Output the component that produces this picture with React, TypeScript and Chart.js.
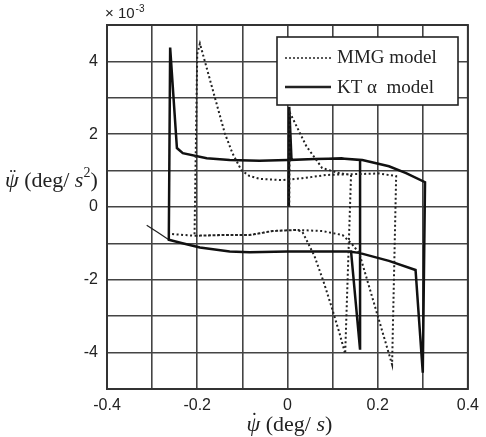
import React, { useEffect, useRef } from 'react';
import { Chart, registerables } from 'chart.js';

Chart.register(...registerables);

// Axis settings (values in deg/s and 10^-3 deg/s^2)
const xMin = -0.4;
const xMax = 0.4;
const xStep = 0.1;
const yMin = -5;
const yMax = 5;
const yStep = 1;

// MMG model (dotted)
const mmgX = [0.004, 0.005, 0.015, 0.042, 0.077, 0.115, 0.141, 0.128, 0.115, 0.098, 0.08, 0.06, 0.042, 0.033, 0.02, -0.033, -0.084, -0.144, -0.206, -0.2, -0.194, -0.139, -0.122, -0.102, -0.084, -0.06, -0.011, 0.033, 0.086, 0.137, 0.203, 0.241, 0.232, 0.159, 0.141, 0.122, 0.077, 0.02, -0.033, -0.084, -0.144, -0.206, -0.261];
const mmgY = [0, 2.6, 2.35, 1.67, 1.07, 0.93, 0.88, -4.03, -3.45, -2.75, -2.05, -1.35, -0.9, -0.68, -0.63, -0.66, -0.77, -0.77, -0.79, 4.2, 4.49, 2.03, 1.48, 1.01, 0.85, 0.77, 0.74, 0.79, 0.88, 0.9, 0.92, 0.85, -4.33, -1.26, -0.99, -0.77, -0.66, -0.63, -0.66, -0.77, -0.77, -0.79, -0.74];

// KT alpha model (solid)
const ktX = [0.003, 0.004, 0.009, 0.06, 0.12, 0.161, 0.161, 0.141, 0.1, 0.0, -0.084, -0.128, -0.194, -0.235, -0.263, -0.26, -0.245, -0.232, -0.179, -0.128, -0.062, 0.0, 0.06, 0.12, 0.166, 0.225, 0.263, 0.305, 0.3, 0.284, 0.225, 0.159, 0.136, 0.0, -0.084, -0.128, -0.194, -0.235, -0.263];
const ktY = [0, 2.75, 1.29, 1.32, 1.33, 1.29, -3.92, -1.22, -1.22, -1.22, -1.24, -1.22, -1.11, -0.99, -0.9, 4.38, 1.62, 1.48, 1.34, 1.29, 1.27, 1.29, 1.32, 1.33, 1.29, 1.12, 0.93, 0.68, -4.55, -1.73, -1.48, -1.26, -1.22, -1.22, -1.24, -1.22, -1.11, -0.99, -0.9];

// KT alpha model, thin tail
const ktTailX = [-0.263, -0.287, -0.312];
const ktTailY = [-0.9, -0.7, -0.5];

const legendLabels = ['MMG model', 'KT \u03b1  model'];

const toPoints = (xs: number[], ys: number[]) => xs.map((x, i) => ({ x, y: ys[i] }));

const SERIF = '"Liberation Serif", "Times New Roman", serif';
const SANS = '"Liberation Sans", Arial, sans-serif';

type Part = { t: string; font: string; dy?: number };

function drawParts(ctx: CanvasRenderingContext2D, parts: Part[], x: number, y: number) {
  let cx = x;
  const pos: number[] = [];
  for (const p of parts) {
    ctx.font = p.font;
    pos.push(cx);
    ctx.fillText(p.t, cx, y + (p.dy || 0));
    cx += ctx.measureText(p.t).width;
  }
  return pos;
}

function measureParts(ctx: CanvasRenderingContext2D, parts: Part[]) {
  let w = 0;
  for (const p of parts) {
    ctx.font = p.font;
    w += ctx.measureText(p.t).width;
  }
  return w;
}

const decorPlugin = {
  id: 'decor',
  afterDraw(chart: any) {
    const ctx: CanvasRenderingContext2D = chart.ctx;
    const a = chart.chartArea;
    ctx.save();
    // frame
    ctx.strokeStyle = '#333';
    ctx.lineWidth = 2;
    ctx.strokeRect(a.left, a.top, a.right - a.left, a.bottom - a.top);

    // legend
    const lx = 277, ly = 37, lw = 181, lh = 68;
    ctx.fillStyle = '#fff';
    ctx.fillRect(lx, ly, lw, lh);
    ctx.strokeStyle = '#222';
    ctx.lineWidth = 1.6;
    ctx.strokeRect(lx, ly, lw, lh);
    ctx.beginPath();
    ctx.setLineDash([2, 2]);
    ctx.lineWidth = 1.5;
    ctx.moveTo(285, 58);
    ctx.lineTo(331, 58);
    ctx.stroke();
    ctx.setLineDash([]);
    ctx.beginPath();
    ctx.lineWidth = 2.5;
    ctx.moveTo(285, 87);
    ctx.lineTo(331, 87);
    ctx.stroke();
    ctx.fillStyle = '#222';
    ctx.textBaseline = 'alphabetic';
    ctx.textAlign = 'left';
    ctx.font = '19px ' + SERIF;
    ctx.fillText(legendLabels[0], 337, 63);
    ctx.fillText(legendLabels[1], 337, 93);

    // exponent label
    ctx.font = '15px ' + SANS;
    ctx.fillText('\u00d7 10', 105, 18);
    const w10 = ctx.measureText('\u00d7 10').width;
    ctx.font = '10px ' + SANS;
    ctx.fillText('-3', 105 + w10 + 1, 12);

    // y title
    const yParts: Part[] = [
      { t: '\u03c8', font: 'italic 22px ' + SERIF },
      { t: ' (deg/ ', font: '22px ' + SERIF },
      { t: 's', font: 'italic 22px ' + SERIF },
      { t: '2', font: '14px ' + SERIF, dy: -10 },
      { t: ')', font: '22px ' + SERIF },
    ];
    const yp = drawParts(ctx, yParts, 5, 187);
    ctx.font = 'italic 22px ' + SERIF;
    const psiW = ctx.measureText('\u03c8').width;
    ctx.textAlign = 'center';
    ctx.font = '20px ' + SERIF;
    ctx.fillText('\u00a8', yp[0] + psiW / 2 + 1, 187 - 4);

    // x title
    ctx.textAlign = 'left';
    const xParts: Part[] = [
      { t: '\u03c8', font: 'italic 22px ' + SERIF },
      { t: ' (deg/ ', font: '22px ' + SERIF },
      { t: 's', font: 'italic 22px ' + SERIF },
      { t: ')', font: '22px ' + SERIF },
    ];
    const xw = measureParts(ctx, xParts);
    const xs = (a.left + a.right) / 2 - xw / 2 + 2;
    const xp = drawParts(ctx, xParts, xs, 431);
    ctx.textAlign = 'center';
    ctx.font = '20px ' + SERIF;
    ctx.fillText('\u02d9', xp[0] + psiW / 2 + 1, 431 - 4);
    ctx.restore();
  },
};

export default function App() {
  const ref = useRef<HTMLCanvasElement>(null);
  useEffect(() => {
    if (!ref.current) return;
    const chart = new Chart(ref.current, {
      type: 'scatter',
      data: {
        datasets: [
          {
            label: legendLabels[0],
            data: toPoints(mmgX, mmgY),
            showLine: true,
            borderColor: '#222',
            borderWidth: 2,
            borderDash: [2, 2.5],
            pointRadius: 0,
            fill: false,
          },
          {
            label: legendLabels[1],
            data: toPoints(ktX, ktY),
            showLine: true,
            borderColor: '#111',
            borderWidth: 2.5,
            pointRadius: 0,
            fill: false,
          },
          {
            label: 'tail',
            data: toPoints(ktTailX, ktTailY),
            showLine: true,
            borderColor: '#222',
            borderWidth: 1.2,
            pointRadius: 0,
            fill: false,
          },
        ],
      },
      options: {
        responsive: false,
        animation: false,
        layout: { padding: { top: 25, right: 17, left: 0, bottom: 0 } },
        plugins: { legend: { display: false }, tooltip: { enabled: false } },
        scales: {
          x: {
            type: 'linear',
            min: xMin,
            max: xMax,
            afterFit: (s: any) => { s.height = 48; },
            grid: { color: '#444', lineWidth: 1.6, drawTicks: false },
            border: { display: false },
            ticks: {
              stepSize: xStep,
              autoSkip: false,
              maxRotation: 0,
              padding: 7,
              color: '#222',
              font: { family: SANS, size: 16 },
              callback: (v: any) => {
                const k = Math.round(Number(v) * 10);
                return k % 2 === 0 ? String(k / 10) : '';
              },
            },
          },
          y: {
            type: 'linear',
            min: yMin,
            max: yMax,
            afterFit: (s: any) => { s.width = 107; },
            grid: { color: '#444', lineWidth: 1.6, drawTicks: false },
            border: { display: false },
            ticks: {
              stepSize: yStep,
              autoSkip: false,
              padding: 9,
              color: '#222',
              font: { family: SANS, size: 16 },
              callback: (v: any) => {
                const k = Math.round(Number(v));
                return k % 2 === 0 ? String(k) : '';
              },
            },
          },
        },
      },
      plugins: [decorPlugin],
    });
    return () => chart.destroy();
  }, []);
  return (
    <div style={{ position: 'absolute', left: 0, top: 0, width: 486, height: 437, background: '#fff' }}>
      <canvas ref={ref} width={486} height={437} />
    </div>
  );
}
